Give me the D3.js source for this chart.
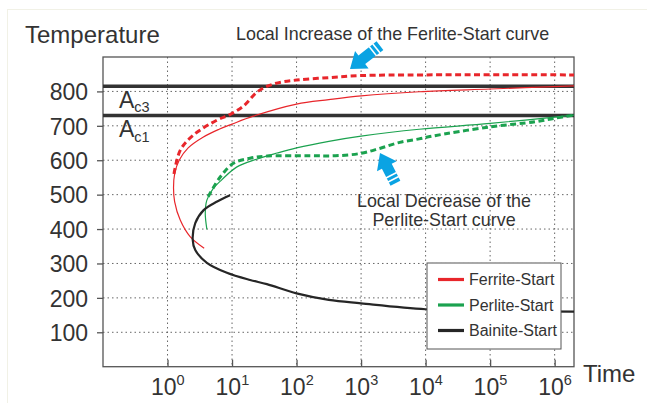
<!DOCTYPE html>
<html>
<head>
<meta charset="UTF-8">
<style>
  body { margin: 0; background: #fff; }
  svg { display: block; font-family: "Liberation Sans", Arial, sans-serif; }
  .grid line { stroke: #666; stroke-width: 1; stroke-dasharray: 1.5,3; }
</style>
</head>
<body>
<svg width="647" height="403"></svg>
<script src="https://d3js.org/d3.v7.min.js"></script>
<script>
// data: [log10(time), temperature]
const ferriteStart = [[0.568,344],[0.35,378],[0.197,426],[0.11,480],[0.093,520],[0.11,560],[0.18,600],[0.32,636],[0.55,667],[0.8,690],[1.0,705],[1.33,728],[2.0,763],[2.5,776],[3.0,787],[3.9,799],[5.0,807],[6.3,816]];
const ferriteStartLocal = [[0.1,560],[0.2,630],[0.4,673],[0.77,717],[0.97,733],[1.18,758],[1.4,800],[1.65,822],[2.0,833],[2.5,840],[3.0,846],[4.0,848],[6.3,848]];
const perliteStart = [[0.61,399],[0.585,446],[0.61,484],[0.71,518],[0.84,543],[1.07,580],[1.38,603],[1.7,621],[2.0,636],[2.5,655],[3.0,670],[3.9,690],[5.0,707],[6.3,731]];
const perliteStartLocal = [[0.63,494],[0.82,552],[1.02,591],[1.28,606],[1.54,612],[2.2,613],[2.6,613],[3.0,620],[3.3,635],[3.6,652],[3.9,662],[4.1,670],[5.0,697],[5.7,712],[6.0,722],[6.3,731]];
const bainiteStart = [[0.97,498],[0.77,480],[0.56,455],[0.43,417],[0.39,370],[0.43,339],[0.61,302],[0.92,273],[1.28,252],[1.54,240],[2.0,213],[2.5,194],[3.0,184],[4.0,167],[5.0,162],[6.3,160]];
const ac3 = 815, ac1 = 730;
const tempTicks = [100, 200, 300, 400, 500, 600, 700, 800];
const timeExps = [0, 1, 2, 3, 4, 5, 6];
const legendNames = ["Ferrite-Start", "Perlite-Start", "Bainite-Start"];

const red = "#e8262b", green = "#1ba24f", black = "#262626", blue = "#0aa3e3";
const legendColors = [red, green, black];

let svg = d3.select("svg");

// faint outer frame
svg.append("rect").attr("x", 7.5).attr("y", 9.5).attr("width", 650).attr("height", 400)
    .attr("fill", "none").attr("stroke", "#f1f1e6");

let pLeft = 103, pRight = 574, pTop = 57, pBottom = 366.7;
let x = d3.scaleLog().domain([0.1, Math.pow(10, 6.3)]).range([pLeft, pRight]);
let y = d3.scaleLinear().domain([0, 900]).range([pBottom, pTop]);

// grid
let grid = svg.append("g").attr("class", "grid");
grid.selectAll(".v").data(timeExps).enter().append("line")
    .attr("x1", d => x(Math.pow(10, d))).attr("x2", d => x(Math.pow(10, d)))
    .attr("y1", pTop).attr("y2", pBottom);
grid.selectAll(".h").data(tempTicks).enter().append("line")
    .attr("x1", pLeft).attr("x2", pRight)
    .attr("y1", d => y(d)).attr("y2", d => y(d));

// frame
svg.append("rect").attr("x", pLeft).attr("y", pTop).attr("width", pRight - pLeft).attr("height", pBottom - pTop)
    .attr("fill", "none").attr("stroke", "#555").attr("stroke-width", 1.3);

// y axis
let yAxis = svg.append("g").attr("transform", "translate(" + pLeft + ",0)")
    .call(d3.axisLeft(y).tickValues(tempTicks).tickSize(6).tickPadding(9).tickFormat(d3.format("d")));
yAxis.select(".domain").remove();
yAxis.selectAll("line").attr("stroke", "#555").attr("stroke-width", 1.3);
yAxis.selectAll("text").attr("font-size", 23).attr("fill", "#333")
    .attr("font-family", "Liberation Sans, Arial, sans-serif").attr("dy", "0.36em");

// x axis
let xAxis = svg.append("g").attr("transform", "translate(0," + pBottom + ")")
    .call(d3.axisBottom(x).tickValues(timeExps.map(d => Math.pow(10, d))).tickSize(-7).tickFormat(""));
xAxis.select(".domain").remove();
xAxis.selectAll("line").attr("stroke", "#555").attr("stroke-width", 1.3);

let xl = svg.append("g").selectAll("text").data(timeExps).enter().append("text")
    .attr("x", d => x(Math.pow(10, d)) - 16.5).attr("y", 395)
    .attr("font-size", 23).attr("fill", "#333");
xl.append("tspan").text("10");
xl.append("tspan").attr("dy", -10).attr("font-size", 14.5).text(d => d);

svg.append("text").attr("x", 25).attr("y", 43).attr("font-size", 24).attr("fill", "#333").text("Temperature");
svg.append("text").attr("x", 583).attr("y", 382).attr("font-size", 24).attr("fill", "#333").text("Time");

// critical temperatures
svg.selectAll(".ac").data([ac3, ac1]).enter().append("line")
    .attr("x1", pLeft).attr("x2", pRight)
    .attr("y1", d => y(d)).attr("y2", d => y(d))
    .attr("stroke", "#333").attr("stroke-width", 3.5);

let a3 = svg.append("text").attr("x", 119).attr("y", 108).attr("font-size", 23).attr("fill", "#333");
a3.append("tspan").text("A");
a3.append("tspan").attr("dy", 4).attr("font-size", 14.5).text("c3");
let a1 = svg.append("text").attr("x", 119).attr("y", 137).attr("font-size", 23).attr("fill", "#333");
a1.append("tspan").text("A");
a1.append("tspan").attr("dy", 5).attr("font-size", 14.5).text("c1");

// curves
let line = d3.line().x(d => x(Math.pow(10, d[0]))).y(d => y(d[1])).curve(d3.curveCatmullRom.alpha(0.5));

let curves = [
    { data: ferriteStart, color: red, width: 1.2, dash: null },
    { data: ferriteStartLocal, color: red, width: 3, dash: "6,3.5" },
    { data: perliteStart, color: green, width: 1.2, dash: null },
    { data: perliteStartLocal, color: green, width: 3, dash: "6,3.5" },
    { data: bainiteStart, color: black, width: 2.2, dash: null }
];
svg.append("g").selectAll("path").data(curves).enter().append("path")
    .attr("d", d => line(d.data))
    .attr("fill", "none")
    .attr("stroke", d => d.color)
    .attr("stroke-width", d => d.width)
    .attr("stroke-dasharray", d => d.dash);

// annotations
svg.append("text").attr("x", 236).attr("y", 40).attr("font-size", 17.9).attr("fill", "#333")
    .text("Local Increase of the Ferlite-Start curve");
svg.append("text").attr("x", 444).attr("y", 207).attr("font-size", 17.9).attr("fill", "#333")
    .attr("text-anchor", "middle").text("Local Decrease of the");
svg.append("text").attr("x", 444).attr("y", 226).attr("font-size", 17.9).attr("fill", "#333")
    .attr("text-anchor", "middle").text("Perlite-Start curve");

// block arrows: tip position and angle toward the tail
function arrow(tx, ty, angle, len) {
    let g = svg.append("g").attr("transform", "translate(" + tx + "," + ty + ") rotate(" + angle + ")");
    g.append("path")
        .attr("d", "M0,0 L15,-11 L15,-5.5 L" + len + ",-5.5 L" + len + ",5.5 L15,5.5 L15,11 Z")
        .attr("fill", blue);
    [len - 9, len - 4.5].forEach(s => {
        g.append("line").attr("x1", s).attr("x2", s).attr("y1", -6).attr("y2", 6)
            .attr("stroke", "#fff").attr("stroke-width", 1.6);
    });
}
arrow(350, 69, -38, 38);
arrow(380, 153, 63, 34);

// legend
let lg = svg.append("g");
lg.append("rect").attr("x", 427).attr("y", 263).attr("width", 134).attr("height", 86)
    .attr("fill", "#fff").attr("stroke", "#555").attr("stroke-width", 1);
let items = lg.selectAll(".item").data(legendNames).enter().append("g")
    .attr("transform", (d, i) => "translate(0," + (279.5 + i * 25.5) + ")");
items.append("line").attr("x1", 438).attr("x2", 464).attr("y1", 0).attr("y2", 0)
    .attr("stroke", (d, i) => legendColors[i]).attr("stroke-width", 3.2);
items.append("text").attr("x", 469).attr("y", 5.5).attr("font-size", 16).attr("fill", "#333").text(d => d);
</script>
</body>
</html>
